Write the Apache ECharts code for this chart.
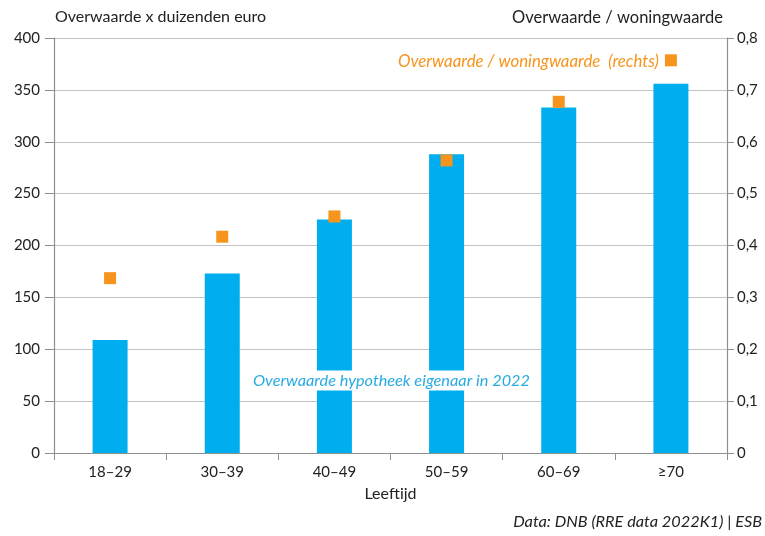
<!DOCTYPE html>
<html>
<head>
<meta charset="utf-8">
<script src="https://cdn.jsdelivr.net/npm/echarts@6/dist/echarts.min.js"></script>
<style>
html,body{margin:0;padding:0;background:#fff;}
#chart{width:765px;height:536px;}
</style>
</head>
<body>
<div id="chart"></div>
<script>
const categories = ['18–29', '30–39', '40–49', '50–59', '60–69', '≥70'];
const overwaarde = [109, 173, 225, 288, 333, 356];
const ratio = [0.337, 0.417, 0.456, 0.564, 0.677, 0.757];
const leftTicks = { min: 0, max: 400, interval: 50 };
const rightTicks = { min: 0, max: 0.8, interval: 0.1 };

const FONT = 'Lato';
const AX = '#8f8f8f';
const BLUE = '#00aeef';
const ORANGE = '#f7941d';

const chart = echarts.init(document.getElementById('chart'));
chart.setOption({
  animation: false,
  backgroundColor: '#fff',
  textStyle: { fontFamily: FONT },
  grid: { left: 54, right: 38, top: 38, bottom: 83 },
  xAxis: {
    type: 'category',
    data: categories,
    name: 'Leeftijd',
    nameLocation: 'middle',
    nameGap: 33,
    nameTextStyle: { color: '#222', fontSize: 16, fontFamily: FONT },
    axisLine: { lineStyle: { color: AX, width: 1.2 } },
    axisTick: { show: true, length: 7, lineStyle: { color: AX } },
    axisLabel: { color: '#222', fontSize: 15, margin: 12, fontFamily: FONT }
  },
  yAxis: [
    {
      type: 'value',
      min: leftTicks.min, max: leftTicks.max, interval: leftTicks.interval,
      axisLine: { show: true, lineStyle: { color: AX, width: 1.2 } },
      axisTick: { show: true, length: 9, lineStyle: { color: AX } },
      axisLabel: { color: '#222', fontSize: 15, margin: 14, fontFamily: FONT },
      splitLine: { show: true, lineStyle: { color: '#b4b4b4', width: 0.8 } }
    },
    {
      type: 'value',
      position: 'right',
      min: rightTicks.min, max: rightTicks.max, interval: rightTicks.interval,
      axisLine: { show: true, lineStyle: { color: AX, width: 1.2 } },
      axisTick: { show: true, length: 7, lineStyle: { color: AX } },
      axisLabel: {
        color: '#222', fontSize: 15, margin: 10, fontFamily: FONT,
        formatter: v => (Math.round(v * 10) / 10).toString().replace('.', ',')
      },
      splitLine: { show: false }
    }
  ],
  series: [
    {
      type: 'bar',
      data: overwaarde,
      barWidth: 35,
      itemStyle: { color: BLUE },
      z: 2
    },
    {
      type: 'scatter',
      yAxisIndex: 1,
      data: ratio,
      symbol: 'rect',
      symbolSize: 12,
      itemStyle: { color: ORANGE, opacity: 1 },
      z: 5
    }
  ]
});

const p40 = chart.convertToPixel({ seriesIndex: 0 }, ['40–49', 70]);
const p50 = chart.convertToPixel({ seriesIndex: 0 }, ['50–59', 70]);
const pLast = chart.convertToPixel({ seriesIndex: 1 }, ['≥70', ratio[ratio.length - 1]]);

chart.setOption({
  graphic: [
    {
      type: 'text', left: 55, top: 9, z: 100,
      style: { text: 'Overwaarde x duizenden euro', fill: '#222', font: '16px ' + FONT }
    },
    {
      type: 'text', right: 42, top: 9, z: 100,
      style: { text: 'Overwaarde / woningwaarde', fill: '#222', font: '16.5px ' + FONT }
    },
    {
      type: 'text', z: 100,
      x: (p40[0] + p50[0]) / 2 + 1, y: p40[1],
      style: {
        text: 'Overwaarde hypotheek eigenaar in 2022',
        fill: '#29abe2', font: 'italic 16.3px ' + FONT,
        align: 'center', verticalAlign: 'middle',
        backgroundColor: '#fff', padding: [2, 10, 2, 10]
      }
    },
    {
      type: 'text', z: 100,
      x: pLast[0] - 12, y: pLast[1] + 1,
      style: {
        text: 'Overwaarde / woningwaarde  (rechts)',
        fill: ORANGE, font: 'italic 16.8px ' + FONT,
        align: 'right', verticalAlign: 'middle'
      }
    },
    {
      type: 'text', right: 3, bottom: 6, z: 100,
      style: { text: 'Data: DNB (RRE data 2022K1) | ESB', fill: '#222', font: 'italic 16.3px ' + FONT }
    }
  ]
});
</script>
</body>
</html>
